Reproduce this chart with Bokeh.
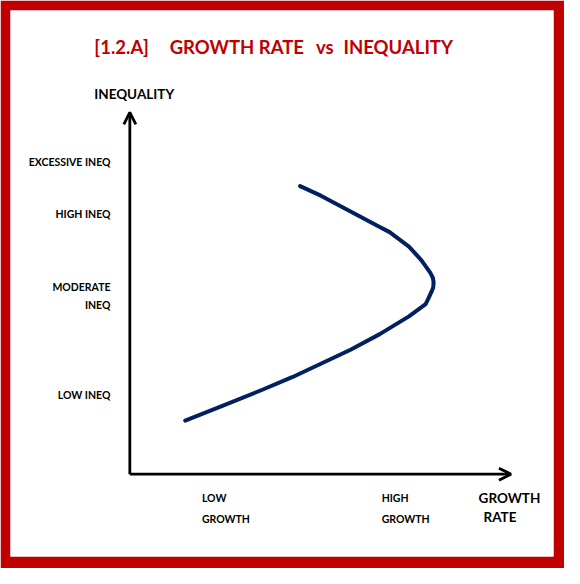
from bokeh.plotting import figure
from bokeh.models import Range1d, Arrow, OpenHead
from bokeh.core.properties import value
from bokeh.embed import file_html
from bokeh.resources import INLINE

# ---- data ----
title_parts = ["[1.2.A]", "GROWTH RATE", "vs", "INEQUALITY"]
title_x = [-0.218, 2.821, 5.141, 7.077]
y_axis_title = "INEQUALITY"
x_axis_title_1 = "GROWTH"
x_axis_title_2 = "RATE"
ineq_labels = ["EXCESSIVE INEQ", "HIGH INEQ", "MODERATE\nINEQ", "LOW INEQ"]
ineq_pos = [8.63, 7.18, 4.92, 2.18]
growth_labels = ["LOW\nGROWTH", "HIGH\nGROWTH"]
growth_pos = [1.90, 6.64]

growth_rate = [1.46, 2.49, 3.51, 4.28, 5.05, 5.82, 6.59, 7.36, 7.80, 7.88, 7.95, 8.00, 8.01,
               7.99, 7.92, 7.69, 7.36, 6.85, 6.54, 5.82, 5.05, 4.49]
inequality = [1.48, 1.91, 2.34, 2.68, 3.06, 3.44, 3.87, 4.36, 4.70, 4.87, 5.03, 5.16, 5.30,
              5.43, 5.57, 5.91, 6.29, 6.69, 6.86, 7.26, 7.69, 7.96]

FONT = "Lato"
RED = "#C00000"
NAVY = "#002060"

p = figure(width=564, height=568, output_backend="svg", toolbar_location=None,
           x_range=Range1d(-3.1466, 11.1715), y_range=Range1d(-2.276, 12.815),
           min_border_left=10, min_border_right=11, min_border_top=10, min_border_bottom=12)
p.border_fill_color = RED
p.background_fill_color = "white"
p.outline_line_color = None
p.xaxis.visible = False
p.yaxis.visible = False
p.xgrid.visible = False
p.ygrid.visible = False

# axes with arrow heads
p.add_layout(Arrow(end=OpenHead(size=12, line_width=2.8, line_color="black"),
                   x_start=0, y_start=0, x_end=0, y_end=10.0, line_width=2.8, line_color="black"))
p.add_layout(Arrow(end=OpenHead(size=12, line_width=2.8, line_color="black"),
                   x_start=0, y_start=0, x_end=10.05, y_end=0, line_width=2.8, line_color="black"))

# curve
p.line(growth_rate, inequality, line_color=NAVY, line_width=4, line_cap="round", line_join="round")

# y tick labels
p.text(x=[-0.51] * len(ineq_labels), y=ineq_pos, text=ineq_labels,
       text_font=value(FONT), text_font_style="bold", text_font_size="10.5px",
       text_align="right", text_baseline="middle", text_line_height=1.48, text_color="black")

# x tick labels
p.text(x=growth_pos, y=[-0.95] * len(growth_labels), text=growth_labels,
       text_font=value(FONT), text_font_style="bold", text_font_size="10.5px",
       text_align="left", text_baseline="middle", text_line_height=1.76, text_color="black")

# axis titles
p.text(x=[0.115], y=[10.51], text=[y_axis_title], text_font=value(FONT), text_font_style="bold",
       text_font_size="13.5px", text_align="center", text_baseline="middle", text_color="black")
p.text(x=[10.01], y=[-0.67], text=[x_axis_title_1], text_font=value(FONT), text_font_style="bold",
       text_font_size="13.5px", text_align="center", text_baseline="middle", text_color="black")
p.text(x=[9.76], y=[-1.18], text=[x_axis_title_2], text_font=value(FONT), text_font_style="bold",
       text_font_size="13.5px", text_align="center", text_baseline="middle", text_color="black")

# title
p.text(x=title_x, y=[11.80] * len(title_parts), text=title_parts, text_font=value(FONT),
       text_font_style="bold", text_font_size="18.5px", text_align="center",
       text_baseline="middle", text_color=RED)

open("out.html", "w").write(file_html(p, INLINE))
